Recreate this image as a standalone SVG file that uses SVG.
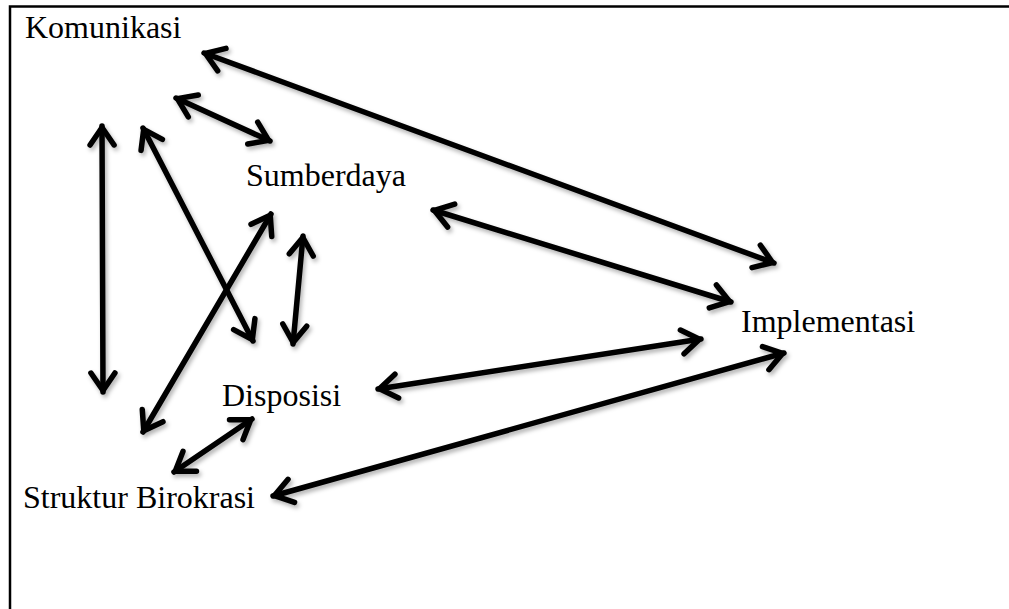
<svg xmlns="http://www.w3.org/2000/svg" width="1009" height="609" viewBox="0 0 1009 609">
  <style>
    .lbl { font-family: "Liberation Serif", "Times New Roman", serif; font-size: 32px; fill: #000; }
    .conn { fill: none; stroke: #000; stroke-width: 5.5; stroke-linecap: round; marker-start: url(#ah); marker-end: url(#ah); }
    .frame { fill: none; stroke: #000; stroke-width: 2.5; }
  </style>
  <defs>
    <marker id="ah" markerUnits="userSpaceOnUse" markerWidth="40" markerHeight="40" refX="0" refY="0" orient="auto-start-reverse" overflow="visible">
      <path d="M-19,-12 L-1.5,0 L-19,12" fill="none" stroke="#000" stroke-width="5.5" stroke-linejoin="round" stroke-linecap="round"/>
    </marker>
    <filter id="sh" x="-10%" y="-10%" width="120%" height="120%">
      <feDropShadow dx="2" dy="3" stdDeviation="2" flood-color="#000" flood-opacity="0.3"/>
    </filter>
  </defs>
  <rect width="1009" height="609" fill="#fff"/>
  <path class="frame" d="M10,609 L10,6.5 L1009,6.5"/>

  <g id="connectors" filter="url(#sh)">
    <line class="conn" x1="204" y1="53" x2="774" y2="263"/>
    <line class="conn" x1="176" y1="98" x2="270" y2="141"/>
    <line class="conn" x1="102" y1="126" x2="103" y2="392"/>
    <line class="conn" x1="143" y1="128" x2="253" y2="341"/>
    <line class="conn" x1="271" y1="214" x2="143" y2="432"/>
    <line class="conn" x1="303" y1="236" x2="293" y2="344"/>
    <line class="conn" x1="433" y1="210" x2="731" y2="302"/>
    <line class="conn" x1="378" y1="389" x2="701" y2="339"/>
    <line class="conn" x1="273" y1="496" x2="784" y2="353"/>
    <line class="conn" x1="252" y1="419" x2="174" y2="472"/>
  </g>

  <g id="komunikasi"><text class="lbl" x="25" y="38">Komunikasi</text></g>
  <g id="sumberdaya"><text class="lbl" x="246" y="186">Sumberdaya</text></g>
  <g id="implementasi"><text class="lbl" x="741" y="332">Implementasi</text></g>
  <g id="disposisi"><text class="lbl" x="222" y="406">Disposisi</text></g>
  <g id="struktur-birokrasi"><text class="lbl" x="23" y="508">Struktur Birokrasi</text></g>
</svg>
